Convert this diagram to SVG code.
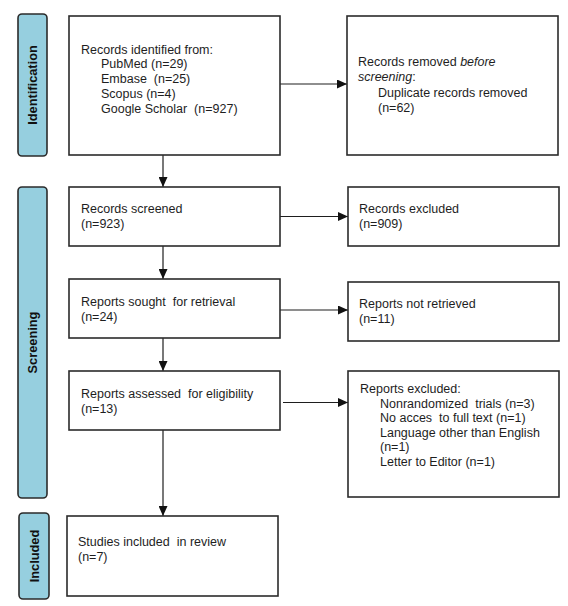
<svg xmlns="http://www.w3.org/2000/svg" width="568" height="606" viewBox="0 0 568 606">
<defs>
<style>
.bar{fill:#96cfdf;stroke:#2b2b2b;stroke-width:1.6}
.box{fill:#ffffff;stroke:#2b2b2b;stroke-width:1.6}
.t{font-family:"Liberation Sans",Arial,sans-serif;font-size:12.5px;fill:#1e1e1e;white-space:pre}
.bt{font-family:"Liberation Sans",Arial,sans-serif;font-size:12.8px;font-weight:bold;fill:#111;text-anchor:middle}
.c{stroke:#1e1e1e;stroke-width:1.2;fill:none}
</style>
<marker id="ah" viewBox="0 0 10 10" refX="10" refY="5" markerWidth="10" markerHeight="9" markerUnits="userSpaceOnUse" orient="auto" preserveAspectRatio="none">
<path d="M0,0 L10,5 L0,10 z" fill="#111"/>
</marker>
</defs>
<rect width="568" height="606" fill="#ffffff"/>

<g id="bar-identification">
<rect class="bar" x="18" y="14" width="29" height="142" rx="4"/>
<text class="bt" transform="translate(37 85) rotate(-90)">Identification</text>
</g>
<g id="bar-screening">
<rect class="bar" x="18" y="187" width="29" height="311" rx="4"/>
<text class="bt" transform="translate(37 342.5) rotate(-90)">Screening</text>
</g>
<g id="bar-included">
<rect class="bar" x="19" y="513" width="30" height="86" rx="4"/>
<text class="bt" transform="translate(38.5 556) rotate(-90)">Included</text>
</g>

<g id="connectors">
<line class="c" x1="280" y1="84" x2="347" y2="84" marker-end="url(#ah)"/>
<line class="c" x1="163" y1="155" x2="163" y2="187" marker-end="url(#ah)"/>
<line class="c" x1="280" y1="216.5" x2="348" y2="216.5" marker-end="url(#ah)"/>
<line class="c" x1="163" y1="246" x2="163" y2="279" marker-end="url(#ah)"/>
<line class="c" x1="280" y1="310" x2="348" y2="310" marker-end="url(#ah)"/>
<line class="c" x1="163" y1="338" x2="163" y2="371" marker-end="url(#ah)"/>
<line class="c" x1="283" y1="402.5" x2="348" y2="402.5" marker-end="url(#ah)"/>
<line class="c" x1="163" y1="430" x2="163" y2="516" marker-end="url(#ah)"/>
</g>

<g id="identified">
<rect class="box" x="69" y="16" width="211" height="139"/>
<text class="t" x="81" y="53.5">Records identified from:</text>
<text class="t" x="101" y="68.3">PubMed (n=29)</text>
<text class="t" x="101" y="83">Embase  (n=25)</text>
<text class="t" x="101" y="97.8">Scopus (n=4)</text>
<text class="t" x="101" y="112.6">Google Scholar  (n=927)</text>
</g>

<g id="removed">
<rect class="box" x="347" y="16" width="211" height="139"/>
<text class="t" x="358" y="66">Records removed <tspan font-style="italic">before</tspan></text>
<text class="t" x="358" y="81"><tspan font-style="italic">screening</tspan>:</text>
<text class="t" x="378" y="97">Duplicate records removed</text>
<text class="t" x="378" y="112">(n=62)</text>
</g>

<g id="screened">
<rect class="box" x="69" y="187" width="211" height="59"/>
<text class="t" x="81" y="213">Records screened</text>
<text class="t" x="81" y="228">(n=923)</text>
</g>

<g id="excluded">
<rect class="box" x="348" y="187" width="211" height="59"/>
<text class="t" x="359" y="213">Records excluded</text>
<text class="t" x="359" y="228">(n=909)</text>
</g>

<g id="sought">
<rect class="box" x="69" y="279" width="211" height="59"/>
<text class="t" x="81" y="306">Reports sought  for retrieval</text>
<text class="t" x="81" y="321">(n=24)</text>
</g>

<g id="not-retrieved">
<rect class="box" x="348" y="282" width="211" height="59"/>
<text class="t" x="359" y="308">Reports not retrieved</text>
<text class="t" x="359" y="323">(n=11)</text>
</g>

<g id="assessed">
<rect class="box" x="69" y="371" width="211" height="59"/>
<text class="t" x="81" y="398">Reports assessed  for eligibility</text>
<text class="t" x="81" y="413">(n=13)</text>
</g>

<g id="reports-excluded">
<rect class="box" x="348" y="371" width="211" height="126"/>
<text class="t" x="360" y="393">Reports excluded:</text>
<text class="t" x="380" y="407.5">Nonrandomized  trials (n=3)</text>
<text class="t" x="380" y="422">No acces  to full text (n=1)</text>
<text class="t" x="380" y="436.5">Language other than English</text>
<text class="t" x="380" y="451">(n=1)</text>
<text class="t" x="380" y="465.5">Letter to Editor (n=1)</text>
</g>

<g id="included">
<rect class="box" x="67" y="516" width="211" height="80"/>
<text class="t" x="78" y="546">Studies included  in review</text>
<text class="t" x="78" y="561">(n=7)</text>
</g>
</svg>
